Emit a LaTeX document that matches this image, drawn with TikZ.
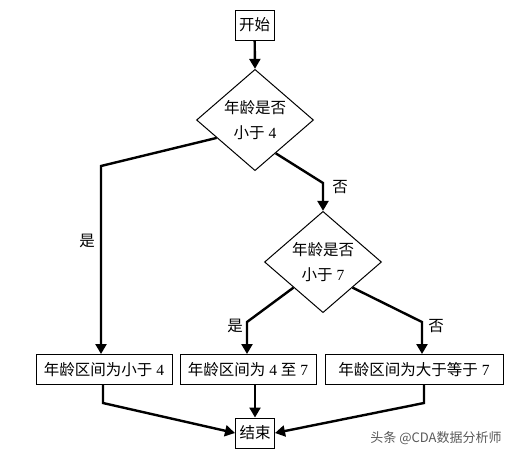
\documentclass[tikz,border=0pt]{standalone}
\usepackage{fontspec}
\setmainfont{Liberation Serif}
\newfontfamily\cjk{Noto Sans CJK SC}
\usetikzlibrary{arrows.meta,shapes.geometric,calc}
\tikzset{
	boite/.style={draw, line width=1pt, inner sep=0pt, minimum height=30pt, font=\fontsize{15.5}{18}\selectfont},
	losange/.style={draw, diamond, line width=1pt, minimum width=117pt, minimum height=88pt, inner sep=0pt, align=center, font=\fontsize{15.5}{25}\selectfont},
	fleche/.style={line width=2.4pt, -{Triangle[length=10pt,width=11pt]}},
	etiq/.style={font=\cjk\fontsize{15.5}{18}\selectfont}
}
\begin{document}
\begin{tikzpicture}[x=1pt,y=-1pt]
	\useasboundingbox (0,0) rectangle (518,458);
	% Debut et tests
	\node[boite, minimum width=39pt] (debut) at (254.5,25) {\cjk 开始};
	\node[losange] (d1) at (255,120) {{\cjk 年龄是否}\\{\cjk 小于} 4};
	\node[losange] (d2) at (323,262) {{\cjk 年龄是否}\\{\cjk 小于} 7};
	
	% Intervalles
	\node[boite, minimum width=136pt] (b1) at (104,369.5) {{\cjk 年龄区间为小于} 4};
	\node[boite, minimum width=136pt] (b2) at (248,369.5) {{\cjk 年龄区间为} 4 {\cjk 至} 7};
	\node[boite, minimum width=178pt] (b3) at (414,369.5) {{\cjk 年龄区间为大于等于} 7};
	\node[boite, minimum width=39pt] (fin) at (255,433) {\cjk 结束};
	
	% Coudes
	\coordinate (g1) at (101,166);
	\coordinate (d1r) at (323,183);
	\coordinate (g2) at (247,322);
	\coordinate (g3) at (422,322);
	\coordinate (h1) at (103,403);
	\coordinate (h3) at (424,403);
	
	% Fleches
	\draw[fleche] (debut) -- (d1.north);
	\draw[fleche] ($(d1.west)!0.35!(d1.south)$) -- (g1) -- (g1 |- b1.north);
	\draw[fleche] ($(d1.south)!0.35!(d1.east)$) -- (d1r) -- (d2.north);
	\draw[fleche] (d2.south west) -- (g2) -- (g2 |- b2.north);
	\draw[fleche] (d2.south east) -- (g3) -- (g3 |- b3.north);
	\draw[fleche] (h1 |- b1.south) -- (h1) -- (fin.west);
	\draw[fleche] (fin.north |- b2.south) -- (fin.north);
	\draw[fleche] (h3 |- b3.south) -- (h3) -- (fin.east);
	
	% Etiquettes
	\node[etiq] (oui1) at (87,241) {是};
	\node[etiq] (non1) at (340,187) {否};
	\node[etiq] (oui2) at (235,326) {是};
	\node[etiq] (non2) at (436,326) {否};
	\node[black!65, font=\cjk\fontsize{13}{15}\selectfont] (marque) at (436,438) {头条 @CDA数据分析师};
\end{tikzpicture}
\end{document}
